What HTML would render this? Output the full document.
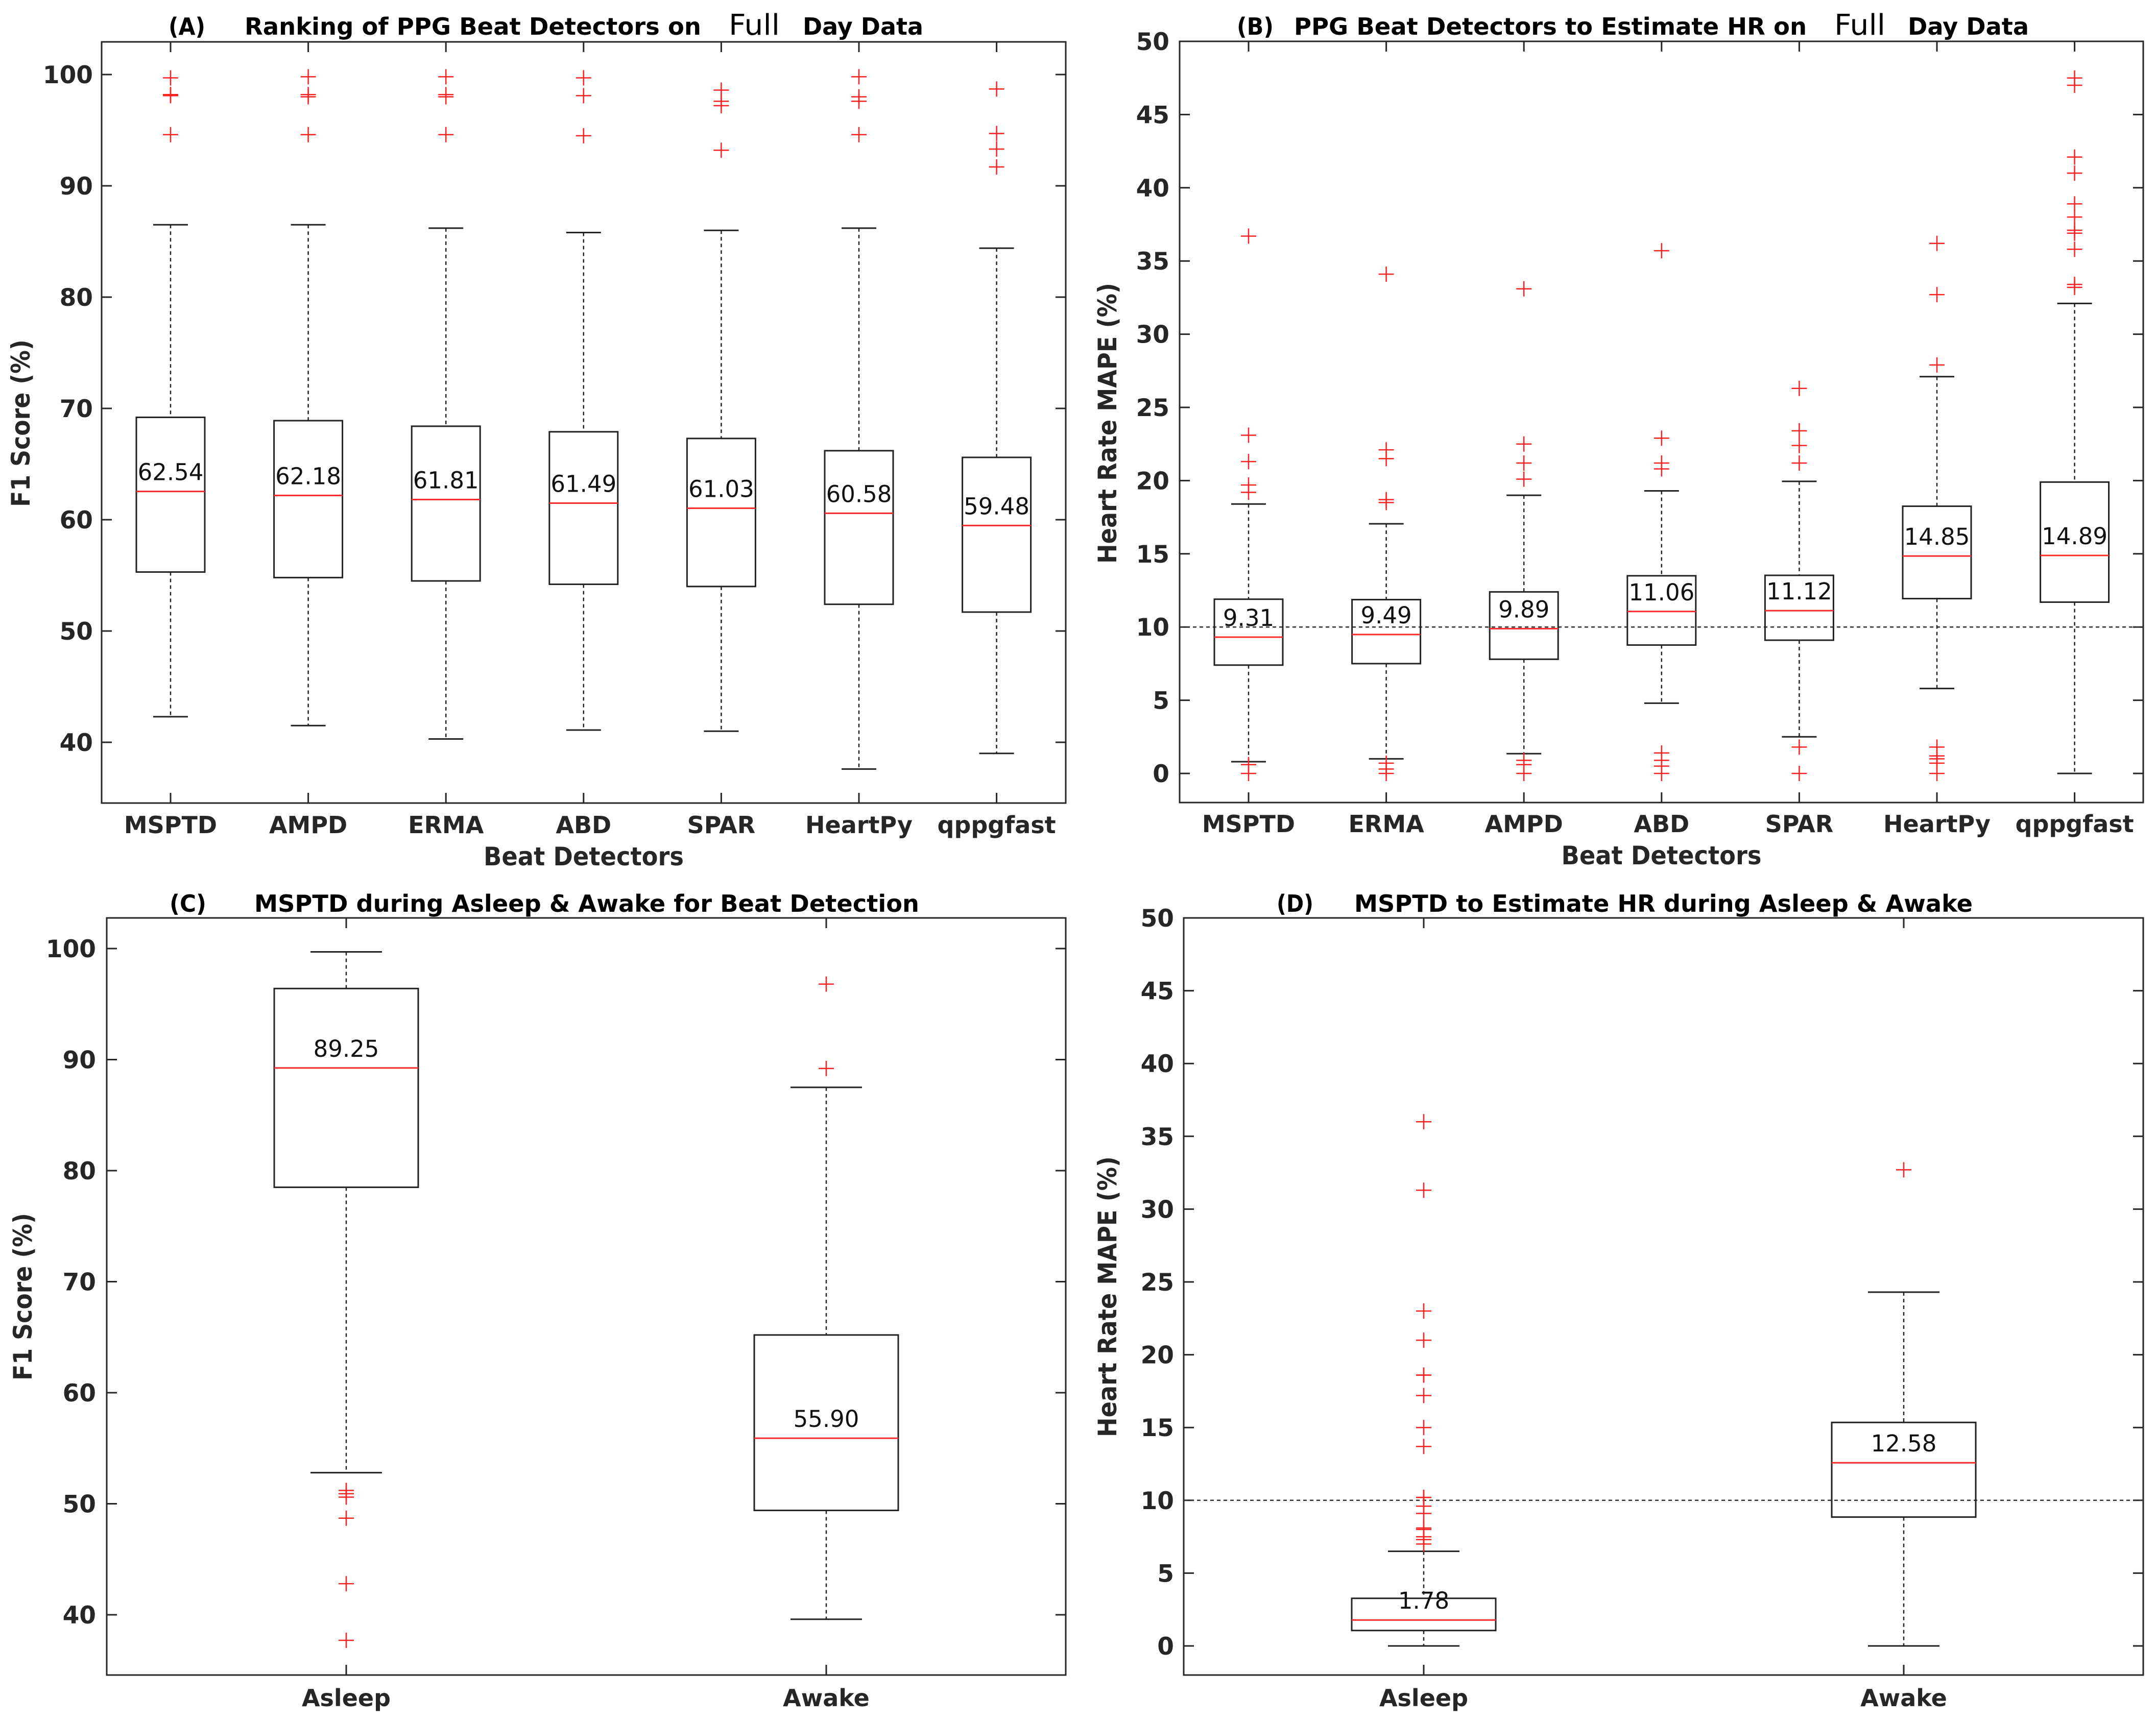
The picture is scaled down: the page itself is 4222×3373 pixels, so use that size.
<!DOCTYPE html>
<html><head><meta charset="utf-8"><style>
html,body{margin:0;padding:0;background:#fff;}
svg{display:block;}
text{font-family:"DejaVu Sans","Liberation Sans",sans-serif;}
</style></head>
<body>
<svg id="fig" width="4222" height="3373" viewBox="0 0 4222 3373" xmlns="http://www.w3.org/2000/svg"></svg>
<script>
// ---------- data ----------
const catsA = ["MSPTD","AMPD","ERMA","ABD","SPAR","HeartPy","qppgfast"];
const upperA = [86.5,86.5,86.2,85.8,86.0,86.2,84.4];
const q3A = [69.2,68.9,68.4,67.9,67.3,66.2,65.6];
const medA = [62.54,62.18,61.81,61.49,61.03,60.58,59.48];
const q1A = [55.3,54.8,54.5,54.2,54.0,52.4,51.7];
const lowerA = [42.3,41.5,40.3,41.1,41.0,37.6,39.0];
const outA = [[99.7,98.2,98.1,94.6],[99.8,98.2,98.0,94.6],[99.8,98.2,98.0,94.6],[99.7,98.1,94.5],[98.6,97.6,97.2,93.2],[99.8,98.0,97.6,94.6],[98.7,94.7,93.3,91.7]];
const ticksA = [40,50,60,70,80,90,100];

const catsB = ["MSPTD","ERMA","AMPD","ABD","SPAR","HeartPy","qppgfast"];
const upperB = [18.4,17.05,19.0,19.3,19.95,27.1,32.1];
const q3B = [11.9,11.87,12.4,13.5,13.53,18.25,19.9];
const medB = [9.31,9.49,9.89,11.06,11.12,14.85,14.89];
const q1B = [7.4,7.5,7.8,8.77,9.1,11.94,11.7];
const lowerB = [0.8,1.0,1.35,4.8,2.5,5.8,0.0];
const outB = [[36.7,23.1,21.3,19.7,19.2,0.6,0.0],[34.1,22.1,21.5,18.7,18.5,0.7,0.3,0.0],[33.1,22.5,21.2,20.1,0.9,0.6,0.0],[35.7,22.9,21.2,20.8,1.4,0.9,0.5,0.0],[26.3,23.4,22.4,21.2,1.8,0.0],[36.2,32.7,27.9,1.8,1.2,1.0,0.7,0.0],[47.5,47.0,42.1,41.0,38.9,38.0,37.1,36.9,35.8,33.4,33.2]];
const ticksB = [0,5,10,15,20,25,30,35,40,45,50];

const catsC = ["Asleep","Awake"];
const upperC = [99.7,87.5];
const q3C = [96.4,65.2];
const medC = [89.25,55.90];
const q1C = [78.5,49.4];
const lowerC = [52.8,39.6];
const outC = [[51.2,50.9,50.6,48.7,42.8,37.7],[96.8,89.2]];
const ticksC = [40,50,60,70,80,90,100];

const catsD = ["Asleep","Awake"];
const upperD = [6.5,24.3];
const q3D = [3.27,15.35];
const medD = [1.78,12.58];
const q1D = [1.06,8.85];
const lowerD = [0,0];
const outD = [[36.0,31.3,23.0,21.0,18.6,18.6,17.2,15.0,13.7,10.2,10.2,9.6,9.1,8.1,8.0,7.5,7.3,7.0],[32.7]];
const ticksD = [0,5,10,15,20,25,30,35,40,45,50];

// ---------- drawing ----------
const svg = document.getElementById('fig');
const NS = 'http://www.w3.org/2000/svg';
function mk(tag, attrs, parent){
  const e = document.createElementNS(NS, tag);
  for (const k in attrs) e.setAttribute(k, attrs[k]);
  (parent||svg).appendChild(e);
  return e;
}
function txt(s, attrs, parent){ const t = mk('text', attrs, parent); t.textContent = s; return t; }

function panel(cfg){
  const g = mk('g', {});
  
  
  const L=cfg.left,R=cfg.right,T=cfg.top,B=cfg.bottom;
  const yS = v => cfg.y0px + (v - cfg.v0) * (cfg.y1px - cfg.y0px) / (cfg.v1 - cfg.v0);
  const xS = i => cfg.x0 + i * cfg.dx;
  const fr = mk('rect', {x:L,y:T,width:R-L,height:B-T,fill:'none',stroke:'#262626','stroke-width':3}, g);
  
  
  cfg.ticks.forEach(v=>{
    const y=yS(v);
    mk('line',{x1:L,x2:L+20,y1:y,y2:y,stroke:'#262626','stroke-width':3},g);
    mk('line',{x1:R-20,x2:R,y1:y,y2:y,stroke:'#262626','stroke-width':3},g);
    const t = txt(String(v),{x:cfg.tickRight,y:y+17,'text-anchor':'end','font-size':47,'font-weight':'bold',fill:'#262626'},g);
    
    
  });
  if (cfg.ref !== undefined){
    const rl = mk('line',{x1:L,x2:R,y1:yS(cfg.ref),y2:yS(cfg.ref),stroke:'#333','stroke-width':2.5,'stroke-dasharray':'7 6'},g);
    
    
  }
  cfg.cats.forEach((c,i)=>{
    const x=xS(i);
    mk('line',{x1:x,x2:x,y1:T,y2:T+20,stroke:'#262626','stroke-width':3},g);
    mk('line',{x1:x,x2:x,y1:B-20,y2:B,stroke:'#262626','stroke-width':3},g);
    const tl = txt(c,{x:x,y:cfg.catY,'text-anchor':'middle','font-size':46,'font-weight':'bold',fill:'#262626'},g);
    
    
    const bg = mk('g',{},g);
    
    
    const hw=cfg.hw, cw=cfg.cw;
    mk('line',{x1:x,x2:x,y1:yS(cfg.upper[i]),y2:yS(cfg.q3[i]),stroke:'#222','stroke-width':2.5,'stroke-dasharray':'7 6'},bg);
    mk('line',{x1:x,x2:x,y1:yS(cfg.q1[i]),y2:yS(cfg.lower[i]),stroke:'#222','stroke-width':2.5,'stroke-dasharray':'7 6'},bg);
    mk('line',{x1:x-cw,x2:x+cw,y1:yS(cfg.upper[i]),y2:yS(cfg.upper[i]),stroke:'#222','stroke-width':3},bg);
    mk('line',{x1:x-cw,x2:x+cw,y1:yS(cfg.lower[i]),y2:yS(cfg.lower[i]),stroke:'#222','stroke-width':3},bg);
    mk('rect',{x:x-hw,y:yS(cfg.q3[i]),width:2*hw,height:yS(cfg.q1[i])-yS(cfg.q3[i]),fill:'none',stroke:'#222','stroke-width':3},bg);
    mk('line',{x1:x-hw,x2:x+hw,y1:yS(cfg.med[i]),y2:yS(cfg.med[i]),stroke:'#ff2a2a','stroke-width':3},bg);
    const ml = txt(cfg.med[i].toFixed(2),{x:x,y:yS(cfg.med[i])-22,'text-anchor':'middle','font-size':45,fill:'#111'},bg);
    
    
    cfg.out[i].forEach(v=>{
      const y=yS(v);
      const o = mk('path',{d:`M${x-15},${y}H${x+15}M${x},${y-15}V${y+15}`,stroke:'#ff2020','stroke-width':2.5,fill:'none'},bg);
      
      
    });
  });
  const yl = txt(cfg.ylabel,{x:0,y:0,transform:`translate(${cfg.ylx},${cfg.yly}) rotate(-90)`,'text-anchor':'middle','font-size':50,'font-weight':'bold',fill:'#262626',textLength:cfg.ylen,lengthAdjust:'spacingAndGlyphs'},g);
  
  
  if (cfg.xlabel){
    const xl = txt(cfg.xlabel,{x:(L+R)/2,y:cfg.xly,'text-anchor':'middle','font-size':50,'font-weight':'bold',fill:'#262626',textLength:392,lengthAdjust:'spacingAndGlyphs'},g);
    
    
  }
  cfg.title.forEach(p=>{
    const t = txt(p.s,{x:p.x,y:cfg.ty,'font-size':p.fs||46,'font-weight':p.w||'bold',fill:'#000',textLength:p.len,lengthAdjust:'spacingAndGlyphs'},g);
    
    
  });
}

panel({name:'panel-a',left:199,right:2087,top:82,bottom:1573,v0:40,v1:100,y0px:1454,y1px:146,
  x0:334,dx:269.6,hw:67,cw:34,cats:catsA,upper:upperA,q3:q3A,med:medA,q1:q1A,lower:lowerA,out:outA,ticks:ticksA,
  tickRight:182,catY:1632,ylabel:'F1 Score (%)',ylx:58,yly:829,ylen:328,xlabel:'Beat Detectors',xly:1695,ty:68,
  title:[{s:'(A)',x:330,len:72},{s:'Ranking of PPG Beat Detectors on',x:479,len:894},{s:'Full',x:1427,len:100,fs:56,w:'normal'},{s:'Day Data',x:1572,len:236}]});

panel({name:'panel-b',left:2310,right:4197,top:81,bottom:1572,v0:0,v1:50,y0px:1515,y1px:81,
  x0:2445,dx:269.6,hw:67,cw:34,cats:catsB,upper:upperB,q3:q3B,med:medB,q1:q1B,lower:lowerB,out:outB,ticks:ticksB,ref:10,
  tickRight:2290,catY:1630,ylabel:'Heart Rate MAPE (%)',ylx:2186,yly:829,ylen:550,xlabel:'Beat Detectors',xly:1693,ty:68,
  title:[{s:'(B)',x:2422,len:72},{s:'PPG Beat Detectors to Estimate HR on',x:2534,len:1004},{s:'Full',x:3592,len:100,fs:56,w:'normal'},{s:'Day Data',x:3736,len:237}]});

panel({name:'panel-c',left:209,right:2087,top:1798,bottom:3281,v0:40,v1:100,y0px:3163,y1px:1858,
  x0:678,dx:940,hw:141,cw:70,cats:catsC,upper:upperC,q3:q3C,med:medC,q1:q1C,lower:lowerC,out:outC,ticks:ticksC,
  tickRight:188,catY:3342,ylabel:'F1 Score (%)',ylx:62,yly:2540,ylen:328,ty:1786,
  title:[{s:'(C)',x:332,len:72},{s:'MSPTD during Asleep & Awake for Beat Detection',x:498,len:1302}]});

panel({name:'panel-d',left:2318,right:4197,top:1798,bottom:3281,v0:0,v1:50,y0px:3224,y1px:1798,
  x0:2788,dx:940,hw:141,cw:70,cats:catsD,upper:upperD,q3:q3D,med:medD,q1:q1D,lower:lowerD,out:outD,ticks:ticksD,ref:10,
  tickRight:2299,catY:3342,ylabel:'Heart Rate MAPE (%)',ylx:2186,yly:2540,ylen:550,ty:1786,
  title:[{s:'(D)',x:2500,len:72},{s:'MSPTD to Estimate HR during Asleep & Awake',x:2652,len:1211}]});
</script>
</body></html>
